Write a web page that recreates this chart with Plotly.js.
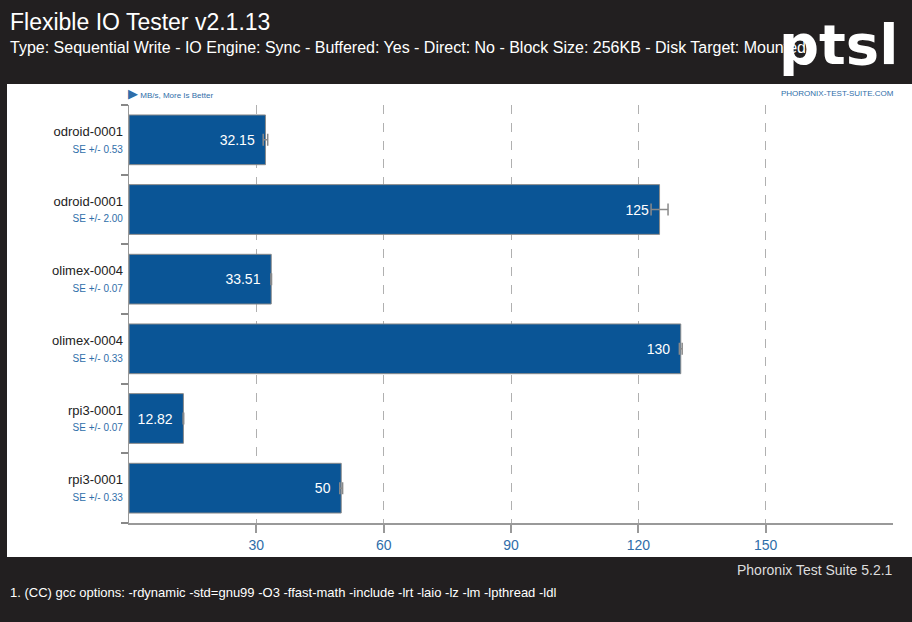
<!DOCTYPE html>
<html>
<head>
<meta charset="utf-8">
<script src="https://cdn.plot.ly/plotly-3.0.1.min.js"></script>
<style>html,body{margin:0;padding:0;background:#221f20;}#chart{width:912px;height:622px;}</style>
</head>
<body>
<div id="chart"></div>
<script>
// ---- data ----
const systems = ["odroid-0001", "odroid-0001", "olimex-0004", "olimex-0004", "rpi3-0001", "rpi3-0001"];
const values = [32.15, 125, 33.51, 130, 12.82, 50];
const stdErr = [0.53, 2.00, 0.07, 0.33, 0.07, 0.33];
const valueLabels = ["32.15", "125", "33.51", "130", "12.82", "50"];
const xTicks = [30, 60, 90, 120, 150];

// ---- layout constants ----
const W = 912, H = 622;
const M = {l: 129, r: 19, t: 105, b: 99};
const PW = W - M.l - M.r, PH = H - M.t - M.b;
const px = x => (x - M.l) / PW;
const py = y => (H - M.b - y) / PH;
const FONT = "'Liberation Sans', Arial, sans-serif";
const BLUE_TXT = "#2f6ea9";

const cats = systems.map((s, i) => "c" + i);
const tickText = systems.map((s, i) =>
  s + "<br><span style='font-size:10px;color:" + BLUE_TXT + "'>SE +/- " + stdErr[i].toFixed(2) + "</span>");

const trace = {
  type: "bar",
  orientation: "h",
  x: values,
  y: cats,
  text: valueLabels.map(t => t + "\u00a0\u00a0"),
  textposition: "inside",
  insidetextanchor: "end",
  textfont: {color: "#ffffff", size: 14, family: FONT},
  marker: {color: "#0a5596", line: {color: "#8a8a8a", width: 1}},
  error_x: {type: "data", array: stdErr, visible: true, color: "#8a8a8a", thickness: 1.5, width: 6},
  hoverinfo: "none",
  cliponaxis: false
};

const layout = {
  width: W, height: H,
  margin: M,
  paper_bgcolor: "#221f20",
  plot_bgcolor: "rgba(0,0,0,0)",
  showlegend: false,
  bargap: 0.286,
  font: {family: FONT},
  xaxis: {
    range: [0, 180],
    tickmode: "array",
    tickvals: xTicks,
    ticktext: xTicks.map(String),
    tickfont: {color: BLUE_TXT, size: 14, family: FONT},
    showgrid: true,
    gridcolor: "#b0b0b0",
    griddash: "dash",
    gridwidth: 1,
    zeroline: false,
    showline: true,
    linecolor: "#999999",
    linewidth: 2,
    ticks: "outside",
    ticklen: 8,
    tickcolor: "#999999",
    tickwidth: 2,
    fixedrange: true
  },
  yaxis: {
    type: "category",
    categoryorder: "array",
    categoryarray: cats,
    autorange: "reversed",
    tickmode: "array",
    tickvals: cats,
    ticktext: tickText,
    tickfont: {color: "#222222", size: 13, family: FONT},
    tickson: "boundaries",
    ticks: "outside",
    ticklen: 7,
    tickcolor: "#888888",
    tickwidth: 2,
    ticklabelstandoff: 2,
    showline: true,
    linecolor: "#999999",
    linewidth: 1.5,
    showgrid: false,
    zeroline: false,
    fixedrange: true
  },
  shapes: [
    {type: "rect", xref: "paper", yref: "paper", layer: "below",
     x0: px(7), x1: px(913), y0: py(557), y1: py(84),
     fillcolor: "#ffffff", line: {width: 0}}
  ],
  annotations: [
    {text: "Flexible IO Tester v2.1.13", xref: "paper", yref: "paper", x: px(8), y: py(22),
     xanchor: "left", yanchor: "middle", showarrow: false,
     font: {color: "#ffffff", size: 23, family: FONT}},
    {text: "Type: Sequential Write - IO Engine: Sync - Buffered: Yes - Direct: No - Block Size: 256KB - Disk Target: Mounted",
     xref: "paper", yref: "paper", x: px(8), y: py(48),
     xanchor: "left", yanchor: "middle", showarrow: false,
     font: {color: "#ffffff", size: 16, family: FONT}},
    {text: "<b>ptsl</b>", xref: "paper", yref: "paper", x: px(838), y: py(44),
     xanchor: "center", yanchor: "middle", showarrow: false,
     font: {color: "#ffffff", size: 56, family: "'DejaVu Sans', sans-serif"}},
    {text: "<span style='font-size:13px'>▶</span> MB/s, More Is Better", xref: "paper", yref: "paper", x: px(126), y: py(93),
     xanchor: "left", yanchor: "middle", showarrow: false,
     font: {color: BLUE_TXT, size: 8, family: FONT}},
    {text: "PHORONIX-TEST-SUITE.COM", xref: "paper", yref: "paper", x: px(896), y: py(94),
     xanchor: "right", yanchor: "middle", showarrow: false,
     font: {color: BLUE_TXT, size: 8, family: FONT}},
    {text: "Phoronix Test Suite 5.2.1", xref: "paper", yref: "paper", x: px(895), y: py(570),
     xanchor: "right", yanchor: "middle", showarrow: false,
     font: {color: "#dddddd", size: 14, family: FONT}},
    {text: "1. (CC) gcc options: -rdynamic -std=gnu99 -O3 -ffast-math -include -lrt -laio -lz -lm -lpthread -ldl",
     xref: "paper", yref: "paper", x: px(8), y: py(592),
     xanchor: "left", yanchor: "middle", showarrow: false,
     font: {color: "#ffffff", size: 13, family: FONT}}
  ]
};

Plotly.newPlot("chart", [trace], layout, {staticPlot: true, displayModeBar: false});
</script>
</body>
</html>
